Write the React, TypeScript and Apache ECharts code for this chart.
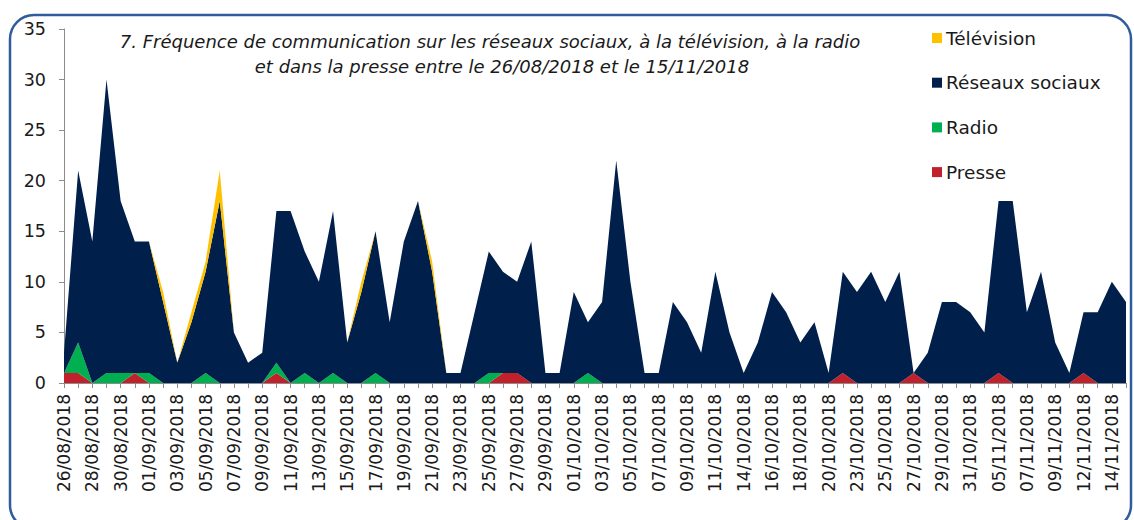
import React, { useEffect, useRef } from "react";
import * as echarts from "echarts";

const dates: string[] = [
  "26/08/2018", "27/08/2018", "28/08/2018", "29/08/2018", "30/08/2018", "31/08/2018", "01/09/2018", "02/09/2018", "03/09/2018", "04/09/2018",
  "05/09/2018", "06/09/2018", "07/09/2018", "08/09/2018", "09/09/2018", "10/09/2018", "11/09/2018", "12/09/2018", "13/09/2018", "14/09/2018",
  "15/09/2018", "16/09/2018", "17/09/2018", "18/09/2018", "19/09/2018", "20/09/2018", "21/09/2018", "22/09/2018", "23/09/2018", "24/09/2018",
  "25/09/2018", "26/09/2018", "27/09/2018", "28/09/2018", "29/09/2018", "30/09/2018", "01/10/2018", "02/10/2018", "03/10/2018", "04/10/2018",
  "05/10/2018", "06/10/2018", "07/10/2018", "08/10/2018", "09/10/2018", "10/10/2018", "11/10/2018", "12/10/2018", "14/10/2018", "15/10/2018",
  "16/10/2018", "17/10/2018", "18/10/2018", "19/10/2018", "20/10/2018", "22/10/2018", "23/10/2018", "24/10/2018", "25/10/2018", "26/10/2018",
  "27/10/2018", "28/10/2018", "29/10/2018", "30/10/2018", "31/10/2018", "02/11/2018", "05/11/2018", "06/11/2018", "07/11/2018", "08/11/2018",
  "09/11/2018", "10/11/2018", "12/11/2018", "13/11/2018", "14/11/2018", "15/11/2018",
];

const presse: number[] = [
  1, 1, 0, 0, 0, 1, 0, 0, 0, 0,
  0, 0, 0, 0, 0, 1, 0, 0, 0, 0,
  0, 0, 0, 0, 0, 0, 0, 0, 0, 0,
  0, 1, 1, 0, 0, 0, 0, 0, 0, 0,
  0, 0, 0, 0, 0, 0, 0, 0, 0, 0,
  0, 0, 0, 0, 0, 1, 0, 0, 0, 0,
  1, 0, 0, 0, 0, 0, 1, 0, 0, 0,
  0, 0, 1, 0, 0, 0,
];

const radio: number[] = [
  0, 3, 0, 1, 1, 0, 1, 0, 0, 0,
  1, 0, 0, 0, 0, 1, 0, 1, 0, 1,
  0, 0, 1, 0, 0, 0, 0, 0, 0, 0,
  1, 0, 0, 0, 0, 0, 0, 1, 0, 0,
  0, 0, 0, 0, 0, 0, 0, 0, 0, 0,
  0, 0, 0, 0, 0, 0, 0, 0, 0, 0,
  0, 0, 0, 0, 0, 0, 0, 0, 0, 0,
  0, 0, 0, 0, 0, 0,
];

const reseaux: number[] = [
  2, 17, 14, 29, 17, 13, 13, 8, 2, 6,
  10, 18, 5, 2, 3, 15, 17, 12, 10, 16,
  4, 9, 14, 6, 14, 18, 11, 1, 1, 7,
  12, 10, 9, 14, 1, 1, 9, 5, 8, 22,
  10, 1, 1, 8, 6, 3, 11, 5, 1, 4,
  9, 7, 4, 6, 1, 10, 9, 11, 8, 11,
  0, 3, 8, 8, 7, 5, 17, 18, 7, 11,
  4, 1, 6, 7, 10, 8,
];

const television: number[] = [
  0, 0, 0, 0, 0, 0, 0, 1, 0, 1,
  1, 3, 0, 0, 0, 0, 0, 0, 0, 0,
  0, 1, 0, 0, 0, 0, 1, 0, 0, 0,
  0, 0, 0, 0, 0, 0, 0, 0, 0, 0,
  0, 0, 0, 0, 0, 0, 0, 0, 0, 0,
  0, 0, 0, 0, 0, 0, 0, 0, 0, 0,
  0, 0, 0, 0, 0, 0, 0, 0, 0, 0,
  0, 0, 0, 0, 0, 0,
];

const titleLine1 = "7. Fréquence de communication sur les réseaux sociaux, à la télévision, à la radio";
const titleLine2 = "et dans la presse entre le 26/08/2018 et le 15/11/2018";
const legendOrder = ["Télévision", "Réseaux sociaux", "Radio", "Presse"];

const COLORS: Record<string, string> = {
  "Télévision": "#FFC000",
  "Réseaux sociaux": "#001F4B",
  "Radio": "#00B050",
  "Presse": "#C0212B",
};

const areaSeries = (name: string, data: number[]) => ({
  name,
  type: "line",
  stack: "total",
  data,
  symbol: "none",
  showSymbol: false,
  lineStyle: { width: 0, opacity: 0 },
  areaStyle: { color: COLORS[name], opacity: 1 },
  itemStyle: { color: COLORS[name] },
  emphasis: { disabled: true },
});

export default function App() {
  const ref = useRef<HTMLDivElement>(null);
  useEffect(() => {
    if (!ref.current) return;
    const chart = echarts.init(ref.current, undefined, { renderer: "svg" });
    const axisFont = "DejaVu Sans";
    const titleFont = "italic 18px 'DejaVu Sans', sans-serif";
    chart.setOption({
      animation: false,
      backgroundColor: "#ffffff",
      grid: { left: 64, right: 8, top: 29, bottom: 137, containLabel: false },
      graphic: [
        {
          type: "rect",
          z: -10,
          shape: { x: 10, y: 15, width: 1121, height: 514, r: 24 },
          style: { fill: "none", stroke: "#2F5C9C", lineWidth: 2.5 },
          silent: true,
        },
        {
          type: "text",
          x: 490,
          y: 32,
          style: {
            text: titleLine1,
            textAlign: "center",
            font: titleFont,
            fill: "#1a1a1a",
          },
        },
        {
          type: "text",
          x: 502,
          y: 57,
          style: {
            text: titleLine2,
            textAlign: "center",
            font: titleFont,
            fill: "#1a1a1a",
          },
        },
      ],
      legend: {
        orient: "vertical",
        left: 927,
        top: 23,
        itemWidth: 10,
        itemHeight: 10,
        itemGap: 24.7,
        icon: "rect",
        data: legendOrder,
        selectedMode: false,
        textStyle: { fontFamily: axisFont, fontSize: 18.5, color: "#1a1a1a", lineHeight: 20, padding: [0, 0, 0, -1] },
      },
      xAxis: {
        type: "category",
        boundaryGap: false,
        data: dates,
        axisLine: { lineStyle: { color: "#8c8c8c", width: 1 } },
        axisTick: { show: true, interval: 0, length: 5, lineStyle: { color: "#8c8c8c" } },
        axisLabel: {
          interval: 1,
          rotate: 90,
          margin: 11,
          fontFamily: axisFont,
          fontSize: 17,
          color: "#1a1a1a",
        },
      },
      yAxis: {
        type: "value",
        min: 0,
        max: 35,
        interval: 5,
        splitLine: { show: false },
        axisLine: { show: true, lineStyle: { color: "#8c8c8c", width: 1 } },
        axisTick: { show: true, length: 5, lineStyle: { color: "#8c8c8c" } },
        axisLabel: { margin: 18, fontFamily: axisFont, fontSize: 17.5, color: "#1a1a1a" },
      },
      series: [
        areaSeries("Presse", presse),
        areaSeries("Radio", radio),
        areaSeries("Réseaux sociaux", reseaux),
        areaSeries("Télévision", television),
      ],
    });
    return () => chart.dispose();
  }, []);
  return (
    <div
      ref={ref}
      style={{ position: "fixed", left: 0, top: 0, width: 1134, height: 520, background: "#fff" }}
    />
  );
}
